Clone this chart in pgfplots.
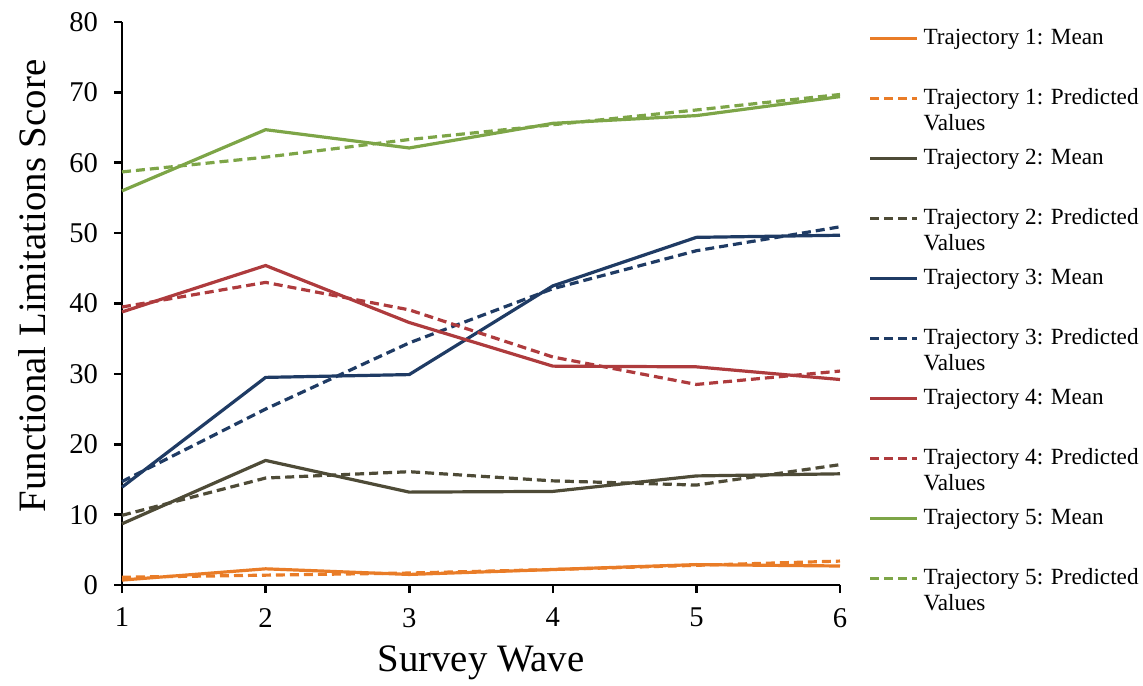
\documentclass[border=0pt]{standalone}
\usepackage{fontspec}
\setmainfont{Liberation Serif}
\usepackage{pgfplots}
\pgfplotsset{compat=1.18}
\definecolor{cOr}{HTML}{E97C27}
\definecolor{cOl}{HTML}{4E4B37}
\definecolor{cNv}{HTML}{1F3B64}
\definecolor{cRd}{HTML}{AE3B3D}
\definecolor{cGr}{HTML}{7DA547}
\newcommand{\two}[2]{\makebox[0pt][l]{\raisebox{-13pt}[0pt][0pt]{#2}}#1}
\begin{document}
\begin{tikzpicture}
\useasboundingbox (0,0) rectangle (571.5pt,342.5pt);
\begin{axis}[
  at={(61pt,50pt)}, anchor=south west,
  scale only axis, width=359pt, height=281.5pt,
  xmin=1, xmax=6, ymin=0, ymax=80,
  xtick={1,...,6}, ytick={0,10,...,80},
  axis x line=bottom, axis y line=left,
  axis line style={-, line width=1.4pt, black},
  tick align=outside, major tick length=4pt,
  every tick/.style={black, line width=1.3pt},
  /pgf/number format/assume math mode=true,
  ticklabel style={font=\fontsize{14.3}{17}\selectfont},
  yticklabel style={xshift=-4.5pt},
  xticklabel style={yshift=-4pt},
  xlabel={Survey Wave}, ylabel={Functional Limitations Score},
  label style={font=\fontsize{19.4}{23}\selectfont},
  xlabel style={at={(axis description cs:0.5,-0.1545)}, anchor=base},
  ylabel style={at={(axis description cs:-0.1072,0.531)}, anchor=base},
  clip=false,
  legend style={at={(axis description cs:1.039,0.99)}, anchor=north west,
    draw=none, fill=none, inner sep=0pt, row sep=19.5pt, column sep=2.5pt,
    font=\fontsize{11.6}{13}\selectfont,
    nodes={inner sep=0pt, text height=8pt, text depth=2.5pt}},
  legend cell align=left,
  legend image code/.code={\draw[#1] (0pt,0pt) -- (23.5pt,0pt);},
  every axis plot/.append style={line width=1.6pt},
]
\addplot[cOr] coordinates {(1,0.7)(2,2.3)(3,1.5)(4,2.2)(5,2.9)(6,2.7)};
\addlegendentry{Trajectory 1: Mean}
\addplot[cOr, dash pattern=on 4.5pt off 2.5pt] coordinates {(1,1.1)(2,1.4)(3,1.7)(4,2.2)(5,2.8)(6,3.4)};
\addlegendentry{\two{Trajectory 1: Predicted}{Values}}
\addplot[cOl] coordinates {(1,8.7)(2,17.7)(3,13.2)(4,13.3)(5,15.5)(6,15.8)};
\addlegendentry{Trajectory 2: Mean}
\addplot[cOl, dash pattern=on 4.5pt off 2.5pt] coordinates {(1,9.9)(2,15.2)(3,16.1)(4,14.8)(5,14.2)(6,17.1)};
\addlegendentry{\two{Trajectory 2: Predicted}{Values}}
\addplot[cNv] coordinates {(1,13.9)(2,29.5)(3,29.9)(4,42.5)(5,49.4)(6,49.7)};
\addlegendentry{Trajectory 3: Mean}
\addplot[cNv, dash pattern=on 4.5pt off 2.5pt] coordinates {(1,14.7)(2,25.0)(3,34.4)(4,42.1)(5,47.5)(6,50.9)};
\addlegendentry{\two{Trajectory 3: Predicted}{Values}}
\addplot[cRd] coordinates {(1,38.8)(2,45.4)(3,37.3)(4,31.1)(5,31.0)(6,29.2)};
\addlegendentry{Trajectory 4: Mean}
\addplot[cRd, dash pattern=on 4.5pt off 2.5pt] coordinates {(1,39.5)(2,43.0)(3,39.1)(4,32.4)(5,28.5)(6,30.4)};
\addlegendentry{\two{Trajectory 4: Predicted}{Values}}
\addplot[cGr] coordinates {(1,56.0)(2,64.7)(3,62.1)(4,65.6)(5,66.7)(6,69.4)};
\addlegendentry{Trajectory 5: Mean}
\addplot[cGr, dash pattern=on 4.5pt off 2.5pt] coordinates {(1,58.7)(2,60.8)(3,63.3)(4,65.4)(5,67.5)(6,69.7)};
\addlegendentry{\two{Trajectory 5: Predicted}{Values}}
\end{axis}
\end{tikzpicture}
\end{document}
